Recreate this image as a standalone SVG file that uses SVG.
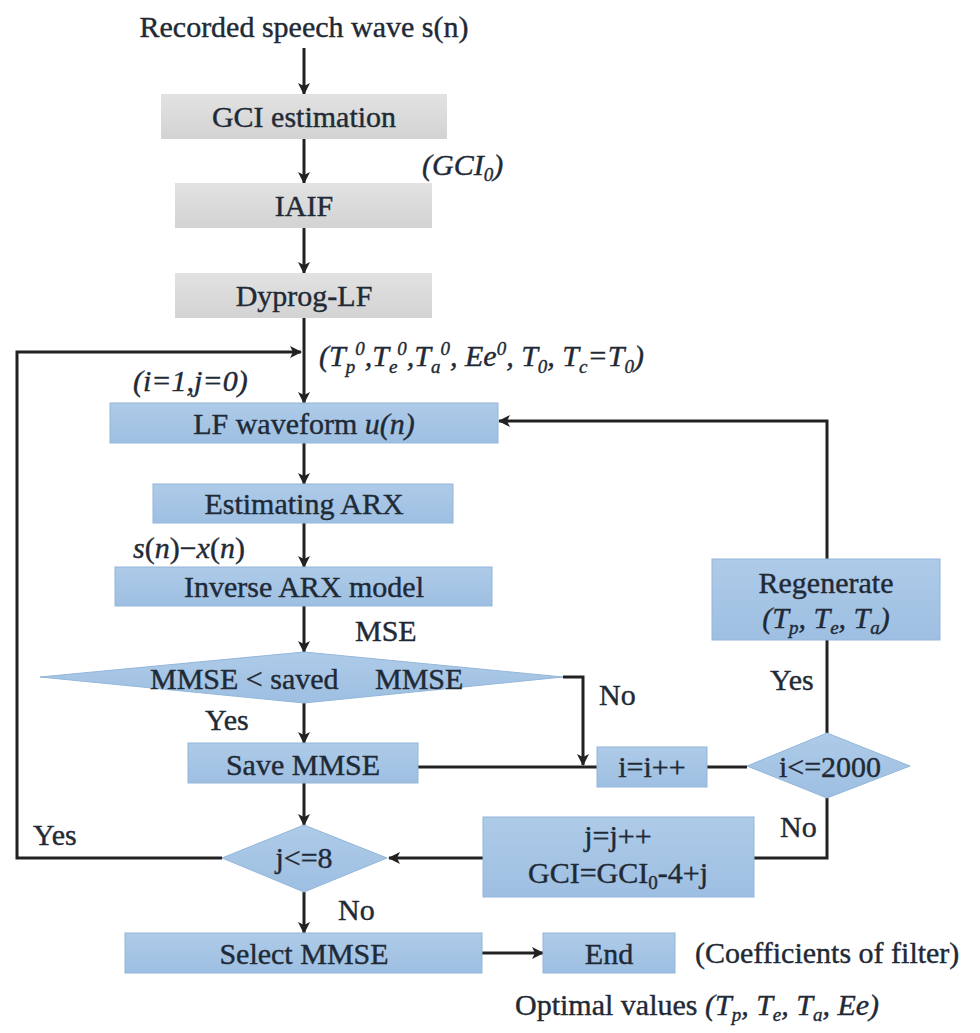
<svg xmlns="http://www.w3.org/2000/svg" width="980" height="1033" viewBox="0 0 980 1033">
<style>
text{font-family:"Liberation Serif","Tinos","Times New Roman",serif;font-size:30px;fill:#1f2a36;stroke:#1f2a36;stroke-width:0.4}
.c{text-anchor:middle}
.i{font-style:italic}
.b{stroke:#93b6da;stroke-width:1}
.ln{fill:none;stroke:#222;stroke-width:3}
.sm{font-size:19px}
</style>
<defs>
<marker id="ah" viewBox="0 0 12 12" refX="11" refY="6" markerWidth="12" markerHeight="12" markerUnits="userSpaceOnUse" orient="auto">
<path d="M0,0 L12,6 L0,12 L3,6 Z" fill="#222"/>
</marker>
<linearGradient id="gg" x1="0" y1="0" x2="0" y2="1"><stop offset="0" stop-color="#e2e2e2"/><stop offset="1" stop-color="#d3d3d3"/></linearGradient>
<linearGradient id="bg" x1="0" y1="0" x2="0" y2="1"><stop offset="0" stop-color="#aecbe8"/><stop offset="1" stop-color="#9ebfe2"/></linearGradient>
</defs>
<rect width="980" height="1033" fill="#fff"/>

<g id="connectors">
<line class="ln" x1="304" y1="48" x2="304" y2="94" marker-end="url(#ah)"/>
<line class="ln" x1="304" y1="139" x2="304" y2="183" marker-end="url(#ah)"/>
<line class="ln" x1="304" y1="228" x2="304" y2="273" marker-end="url(#ah)"/>
<line class="ln" x1="304" y1="318" x2="304" y2="403" marker-end="url(#ah)"/>
<polyline class="ln" points="222,858 17,858 17,352 301,352" marker-end="url(#ah)"/>
<polyline class="ln" points="827,559 827,421 499,421" marker-end="url(#ah)"/>
<line class="ln" x1="304" y1="443" x2="304" y2="484" marker-end="url(#ah)"/>
<line class="ln" x1="304" y1="523" x2="304" y2="567" marker-end="url(#ah)"/>
<line class="ln" x1="304" y1="606" x2="304" y2="652" marker-end="url(#ah)"/>
<polyline class="ln" points="563,677 583,677 583,765" marker-end="url(#ah)"/>
<line class="ln" x1="304" y1="703" x2="304" y2="743" marker-end="url(#ah)"/>
<line class="ln" x1="418" y1="767" x2="597" y2="767"/>
<line class="ln" x1="707" y1="767" x2="747" y2="767"/>
<line class="ln" x1="827" y1="733" x2="827" y2="640"/>
<polyline class="ln" points="827,798 827,858 754,858"/>
<line class="ln" x1="483" y1="858" x2="389" y2="858" marker-end="url(#ah)"/>
<line class="ln" x1="304" y1="783" x2="304" y2="825" marker-end="url(#ah)"/>
<line class="ln" x1="304" y1="892" x2="304" y2="933" marker-end="url(#ah)"/>
<line class="ln" x1="482" y1="953" x2="543" y2="953" marker-end="url(#ah)"/>
</g>

<g id="labels">
<text class="c" x="304" y="37">Recorded speech wave s(n)</text>
<text class="i" x="422" y="175">(GCI<tspan class="sm" dy="6">0</tspan><tspan dy="-6">)</tspan></text>
<text class="i" x="319" y="366">(T<tspan class="sm" dy="7">p</tspan><tspan class="sm" dy="-18">0</tspan><tspan dy="11">,T</tspan><tspan class="sm" dy="7">e</tspan><tspan class="sm" dy="-18">0</tspan><tspan dy="11">,T</tspan><tspan class="sm" dy="7">a</tspan><tspan class="sm" dy="-18">0</tspan><tspan dy="11">, Ee</tspan><tspan class="sm" dy="-11">0</tspan><tspan dy="11">, T</tspan><tspan class="sm" dy="7">0</tspan><tspan dy="-7">, T</tspan><tspan class="sm" dy="7">c</tspan><tspan dy="-7">=T</tspan><tspan class="sm" dy="7">0</tspan><tspan dy="-7">)</tspan></text>
<text class="i" x="133" y="391">(i=1,j=0)</text>
<text x="133" y="558"><tspan class="i">s</tspan>(<tspan class="i">n</tspan>)−<tspan class="i">x</tspan>(<tspan class="i">n</tspan>)</text>
<text x="355" y="641">MSE</text>
<text x="599" y="705">No</text>
<text x="205" y="730">Yes</text>
<text x="770" y="690">Yes</text>
<text x="780" y="837">No</text>
<text x="33" y="845">Yes</text>
<text x="338" y="920">No</text>
<text x="695" y="963">(Coefficients of filter)</text>
<text x="515" y="1015">Optimal values  <tspan class="i">(T<tspan class="sm" dy="6">p</tspan><tspan dy="-6">, T</tspan><tspan class="sm" dy="6">e</tspan><tspan dy="-6">, T</tspan><tspan class="sm" dy="6">a</tspan><tspan dy="-6">, Ee)</tspan></tspan></text>
</g>

<g id="gci"><rect x="161" y="94" width="286" height="45" fill="url(#gg)"/><text class="c" x="304" y="127">GCI estimation</text></g>
<g id="iaif"><rect x="175" y="183" width="257" height="45" fill="url(#gg)"/><text class="c" x="304" y="216">IAIF</text></g>
<g id="dyprog"><rect x="175" y="273" width="257" height="45" fill="url(#gg)"/><text class="c" x="304" y="306">Dyprog-LF</text></g>
<g id="lf"><rect class="b" x="110" y="403" width="388" height="40" fill="url(#bg)"/><text class="c" x="304" y="434">LF waveform <tspan class="i">u(n)</tspan></text></g>
<g id="arx"><rect class="b" x="153" y="484" width="300" height="39" fill="url(#bg)"/><text class="c" x="304" y="514">Estimating ARX</text></g>
<g id="inv"><rect class="b" x="115" y="567" width="377" height="39" fill="url(#bg)"/><text class="c" x="304" y="597">Inverse ARX model</text></g>
<g id="cmp"><polygon class="b" points="40,677 304,652 563,677 304,703" fill="url(#bg)"/><text x="150" y="689">MMSE &lt; saved<tspan x="375">MMSE</tspan></text></g>
<g id="save"><rect class="b" x="188" y="743" width="230" height="40" fill="url(#bg)"/><text class="c" x="303" y="775">Save MMSE</text></g>
<g id="inc"><rect class="b" x="597" y="747" width="110" height="40" fill="url(#bg)"/><text class="c" x="652" y="777">i=i++</text></g>
<g id="cond2000"><polygon class="b" points="747,766 827,733 910,766 827,798" fill="url(#bg)"/><text class="c" x="830" y="777">i&lt;=2000</text></g>
<g id="regen"><rect class="b" x="712" y="559" width="228" height="81" fill="url(#bg)"/><text class="c" x="826" y="593">Regenerate</text><text class="c i" x="826" y="628">(T<tspan class="sm" dy="6">p</tspan><tspan dy="-6">, T</tspan><tspan class="sm" dy="6">e</tspan><tspan dy="-6">, T</tspan><tspan class="sm" dy="6">a</tspan><tspan dy="-6">)</tspan></text></g>
<g id="jinc"><rect class="b" x="483" y="817" width="271" height="80" fill="url(#bg)"/><text class="c" x="618" y="846">j=j++</text><text class="c" x="618" y="883">GCI=GCI<tspan class="sm" dy="6">0</tspan><tspan dy="-6">-4+j</tspan></text></g>
<g id="cond8"><polygon class="b" points="222,858 304,825 387,858 304,892" fill="url(#bg)"/><text class="c" x="304" y="868">j&lt;=8</text></g>
<g id="select"><rect class="b" x="125" y="933" width="357" height="40" fill="url(#bg)"/><text class="c" x="304" y="964">Select MMSE</text></g>
<g id="end"><rect class="b" x="543" y="933" width="132" height="40" fill="url(#bg)"/><text class="c" x="609" y="964">End</text></g>
</svg>
